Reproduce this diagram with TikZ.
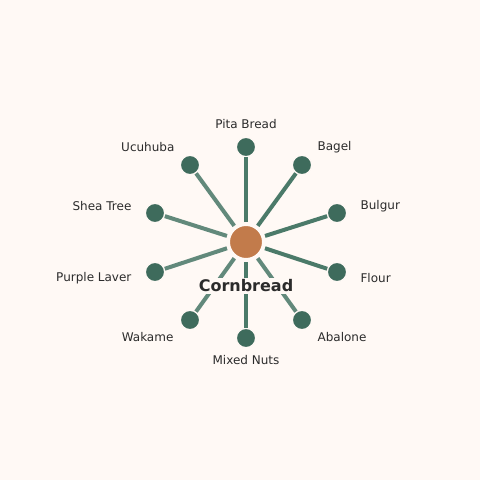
\documentclass[tikz,border=0pt]{standalone}
\usepackage{fontspec}
\setmainfont{DejaVu Sans}
\usetikzlibrary{shapes}
\definecolor{bgc}{HTML}{FFF9F5}
\definecolor{hubc}{HTML}{C27B4B}
\definecolor{leafc}{HTML}{3E6B5C}
\definecolor{spkd}{HTML}{4B7A69}
\definecolor{spkl}{HTML}{62897B}
\definecolor{txtc}{HTML}{2B2B2B}
\tikzstyle{hub}=[circle,fill=hubc,draw=bgc,line width=1.5pt,minimum size=25.5pt,inner sep=0pt]
\tikzstyle{leaf}=[circle,fill=leafc,draw=bgc,line width=1pt,minimum size=14.5pt,inner sep=0pt]
\tikzstyle{spoke}=[line width=3pt,shorten <=1.5pt]
\tikzstyle{lbl}=[text=txtc,font=\fontsize{9}{11}\selectfont,inner sep=1pt]

\begin{document}
\begin{tikzpicture}[x=0.75pt,y=-0.75pt]
\fill[bgc] (0,0) rectangle (480,480);
\useasboundingbox (0,0) rectangle (480,480);
\node[leaf] (pita) at (246,147) {}; \node[leaf] (bagel) at (302,165) {}; \node[leaf] (bulgur) at (337,213) {};
\node[leaf] (flour) at (337,272) {}; \node[leaf] (abalone) at (302,320) {}; \node[leaf] (nuts) at (246,338) {};
\node[leaf] (wakame) at (190,320) {}; \node[leaf] (laver) at (155,272) {}; \node[leaf] (shea) at (155,213) {};
\node[leaf] (ucuhuba) at (190,165) {};
\node[hub] (corn) at (246,242) {};
\draw[spoke,spkd] (corn) -- (pita);
\draw[spoke,spkd] (corn) -- (bagel);
\draw[spoke,spkd] (corn) -- (bulgur);
\draw[spoke,spkd] (corn) -- (flour);
\draw[spoke,spkl] (corn) -- (abalone);
\draw[spoke,spkd] (corn) -- (nuts);
\draw[spoke,spkl] (corn) -- (wakame);
\draw[spoke,spkl] (corn) -- (laver);
\draw[spoke,spkl] (corn) -- (shea);
\draw[spoke,spkl] (corn) -- (ucuhuba);
\node[fill=bgc,inner sep=1.5pt,text=txtc,font=\bfseries\fontsize{12}{14}\selectfont] (cornlbl) at (246,286) {Cornbread};
\node[lbl] (pitalbl) at (246,124) {Pita Bread};
\node[lbl,anchor=west] (bagellbl) at (316,147) {Bagel};
\node[lbl,anchor=west] (bulgurlbl) at (359,206) {Bulgur};
\node[lbl,anchor=west] (flourlbl) at (359,278) {Flour};
\node[lbl,anchor=west] (abalonelbl) at (316,337) {Abalone};
\node[lbl] (nutslbl) at (246,360) {Mixed Nuts};
\node[lbl,anchor=east] (wakamelbl) at (175,337) {Wakame};
\node[lbl,anchor=east] (laverlbl) at (133,278) {Purple Laver};
\node[lbl,anchor=east] (shealbl) at (133,206) {Shea Tree};
\node[lbl,anchor=east] (ucuhubalbl) at (176,147) {Ucuhuba};
\end{tikzpicture}
\end{document}
